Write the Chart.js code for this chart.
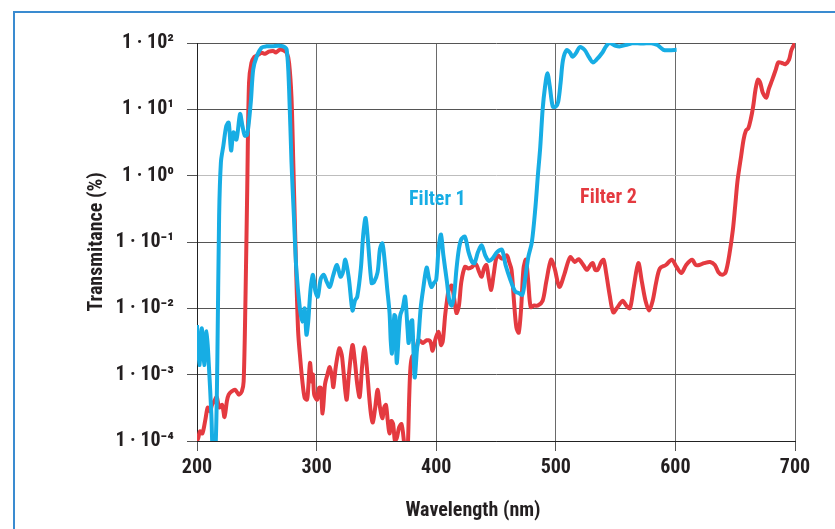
<!DOCTYPE html>
<html>
<head>
<meta charset="utf-8">
<script src="https://cdn.jsdelivr.net/npm/chart.js@4.4.1/dist/chart.umd.min.js"></script>
<style>
  html, body { margin: 0; padding: 0; background: #fff; }
  #wrap { position: relative; width: 835px; height: 529px; overflow: hidden; }
  #frame { position: absolute; left: 13px; top: 11px; width: 900px; height: 600px;
           border-left: 2px solid #3a8bd0; border-top: 2px solid #3a8bd0; }
  canvas { position: absolute; left: 0; top: 0; }
</style>
</head>
<body>
<div id="wrap">
  <div id="frame"></div>
  <canvas id="myChart" width="835" height="529"></canvas>
</div>
<script>
const FONT = '"Roboto Condensed", "Liberation Sans Narrow", Roboto, sans-serif';
const BLUE = '#17ade4';
const RED = '#e43a40';

const xTicks = [200, 300, 400, 500, 600, 700];
const yTicks = [1e-4, 1e-3, 1e-2, 1e-1, 1, 10, 100];
const yTickLabels = ['1 · 10⁻⁴', '1 · 10⁻³', '1 · 10⁻²', '1 · 10⁻¹', '1 · 10⁰', '1 · 10¹', '1 · 10²'];

// Filter 1: wavelength (nm) and transmittance (%)
const filter1Nm = [200, 202, 204, 206, 208, 210, 212, 213.5, 215.5, 217, 218.5, 220, 222, 224.5, 226.5, 228.5, 230.5, 233, 236, 238,
  240, 242, 245, 247, 250, 254, 258, 263, 268, 272, 275, 277, 279, 281, 283, 286, 288, 290, 291.5, 293,
  295, 297, 299, 301, 303.5, 306, 308.5, 311, 314, 317, 320, 322, 324, 327, 330, 332, 334, 337, 339, 341,
  343, 346, 348, 351, 353, 355, 357, 359, 361, 362, 363, 365, 366, 367, 369, 370, 372, 374, 376, 377,
  379, 380, 382, 384, 385, 387, 389, 392, 394, 396, 398, 400, 402, 404, 406, 409, 411, 413, 415, 417,
  419, 421, 424, 427, 430, 432, 435, 438, 441, 444, 447, 451, 455, 458, 462, 466, 469, 472, 474, 477,
  480, 483, 485, 487, 489, 491, 493, 495, 497.5, 500, 502, 504, 506, 509, 512, 514, 517, 520, 524, 528,
  531, 534, 539, 542, 545, 550, 554, 560, 565, 572, 579, 585, 590, 595, 601];
const filter1T = [5.6e-3, 1.4e-3, 5.0e-3, 1.4e-3, 4.5e-3, 1.3e-3, 2.5e-4, 5.0e-5, 7.9e-5, 1.6e-3, 0.25, 1.6, 2.8, 5.6, 6.3, 2.4, 4.5, 3.5, 8.5, 5.6,
  4.0, 4.2, 13, 40, 63, 85, 89, 89, 91, 89, 79, 20, 1.6, 0.25, 0.04, 0.01, 6.3e-3, 0.01, 4.0e-3, 6.3e-3,
  0.02, 0.032, 0.018, 0.015, 0.028, 0.032, 0.025, 0.021, 0.032, 0.045, 0.030, 0.035, 0.054, 0.028, 9.3e-3, 0.013, 0.015, 0.04, 0.13, 0.23,
  0.1, 0.024, 0.025, 0.035, 0.079, 0.095, 0.05, 0.02, 8.5e-3, 3.2e-3, 2.1e-3, 7.9e-3, 7.4e-3, 1.5e-3, 5.0e-3, 7.9e-3, 0.01, 0.015, 5.0e-3, 3.0e-3,
  6.3e-3, 6.6e-3, 9.1e-4, 2.5e-3, 3.3e-3, 0.01, 0.019, 0.041, 0.028, 0.021, 0.024, 0.027, 0.079, 0.13, 0.063, 0.025, 0.013, 0.011, 0.016, 0.04,
  0.079, 0.11, 0.12, 0.071, 0.05, 0.048, 0.071, 0.089, 0.063, 0.052, 0.056, 0.071, 0.076, 0.045, 0.027, 0.018, 0.017, 0.016, 0.025, 0.059,
  0.1, 0.34, 1.0, 2.7, 10, 22, 35, 22, 11, 11, 13, 25, 55, 78, 71, 62, 71, 87, 79, 60,
  51, 56, 72, 89, 100, 91, 89, 95, 100, 98, 100, 93, 79, 78, 79];

// Filter 2: wavelength (nm) and transmittance (%)
const filter2Nm = [200, 201, 202.5, 204.5, 207, 209, 211, 212.5, 214.5, 216.5, 218.5, 221, 223, 225, 226.5, 229, 232, 235, 237.5, 239,
  240.5, 242, 243.5, 245.5, 248, 251, 254, 257, 260, 263.5, 266, 269, 272, 275, 277, 279, 280.5, 282, 284.5, 286.5,
  288, 290, 292, 293, 294.5, 296, 297, 298, 300.5, 302, 303.5, 305, 307, 309, 311, 313, 314, 316, 319, 321,
  322, 325, 327, 330, 332, 334, 336, 338, 340, 342, 344, 345.5, 347, 349, 351, 353, 355, 356.5, 358, 359.5,
  361, 362.5, 364, 365.5, 367, 369, 371, 373, 374.5, 376, 377.5, 378.5, 380, 382.5, 385, 387, 389, 392, 395, 397,
  399.5, 402, 404, 405.5, 407.5, 409, 410.5, 413, 415, 417, 419, 421, 424, 427, 430, 433, 436, 438, 440, 442,
  444, 446, 448, 451, 455, 459, 461, 463, 465, 467, 469, 471, 473, 475, 477, 479, 482, 485, 489, 492,
  496, 499, 503, 507, 512, 516, 519, 523, 526, 529, 531, 533, 535, 538, 540, 542, 545, 548, 551, 554,
  556, 559, 562, 565, 569, 572, 575, 578, 581, 584, 587, 592, 597, 601, 605, 609, 614, 617, 620, 624,
  629, 633, 636, 639, 642, 645, 648, 650, 652, 655, 657, 659, 661, 663, 665, 667, 669, 671, 673, 676,
  678, 681, 684, 686, 689, 692, 695, 697, 700];
const filter2T = [1.0e-4, 1.1e-4, 1.4e-4, 1.3e-4, 2.1e-4, 3.2e-4, 2.8e-4, 3.5e-4, 4.0e-4, 4.6e-4, 3.2e-4, 3.5e-4, 2.3e-4, 4.0e-4, 5.0e-4, 5.6e-4, 5.9e-4, 5.0e-4, 5.6e-4, 7.9e-4,
  0.013, 0.63, 25, 50, 62, 66, 71, 69, 74, 76, 72, 79, 78, 71, 50, 15, 1.6, 0.15, 4.7e-3, 1.6e-3,
  8.3e-4, 4.5e-4, 4.2e-4, 6.3e-4, 1.5e-3, 7.9e-4, 1.0e-3, 5.0e-4, 4.2e-4, 6.3e-4, 6.3e-4, 2.6e-4, 7.1e-4, 1.0e-3, 1.3e-3, 8.9e-4, 6.5e-4, 1.3e-3, 2.5e-3, 2.0e-3,
  1.4e-3, 4.2e-4, 1.0e-3, 2.8e-3, 1.6e-3, 7.1e-4, 4.6e-4, 1.3e-3, 2.6e-3, 1.3e-3, 4.6e-4, 2.5e-4, 1.9e-4, 3.2e-4, 5.9e-4, 3.2e-4, 2.2e-4, 3.2e-4, 3.5e-4, 2.0e-4,
  1.3e-4, 2.0e-4, 1.8e-4, 1.0e-4, 1.1e-4, 1.6e-4, 1.8e-4, 1.0e-4, 5.0e-5, 6.3e-5, 5.0e-4, 1.3e-3, 1.9e-3, 2.0e-3, 3.3e-3, 3.2e-3, 3.0e-3, 3.3e-3, 3.2e-3, 2.3e-3,
  3.5e-3, 4.4e-3, 2.8e-3, 3.2e-3, 7.9e-3, 0.013, 0.019, 0.022, 0.014, 8.5e-3, 0.011, 0.025, 0.042, 0.04, 0.042, 0.047, 0.035, 0.03, 0.04, 0.045,
  0.028, 0.019, 0.032, 0.063, 0.056, 0.063, 0.05, 0.038, 0.013, 5.2e-3, 4.3e-3, 0.01, 0.04, 0.054, 0.025, 0.0105, 0.011, 0.011, 0.013, 0.025,
  0.054, 0.04, 0.021, 0.032, 0.059, 0.05, 0.055, 0.045, 0.038, 0.045, 0.048, 0.038, 0.038, 0.05, 0.054, 0.035, 0.016, 8.7e-3, 0.01, 0.012,
  0.013, 0.011, 0.01, 0.02, 0.048, 0.025, 0.013, 9.3e-3, 0.013, 0.025, 0.04, 0.045, 0.054, 0.042, 0.034, 0.045, 0.054, 0.045, 0.045, 0.048,
  0.05, 0.045, 0.035, 0.032, 0.035, 0.063, 0.15, 0.35, 0.85, 2.0, 3.5, 4.8, 5.2, 7.1, 11, 20, 28, 25, 18, 15,
  20, 28, 40, 51, 50, 48, 56, 78, 100];

function toPoints(xs, ys) {
  return xs.map((x, i) => ({ x: x, y: ys[i] }));
}

const textPlugin = {
  id: 'extraText',
  afterDraw(chart) {
    const { ctx, scales: { x, y } } = chart;
    ctx.save();
    ctx.textAlign = 'center';
    ctx.textBaseline = 'middle';
    ctx.font = 'bold 20px ' + FONT;
    ctx.fillStyle = BLUE;
    ctx.fillText('Filter 1', x.getPixelForValue(401), y.getPixelForValue(0.43));
    ctx.fillStyle = RED;
    ctx.fillText('Filter 2', x.getPixelForValue(544), y.getPixelForValue(0.46));
    // x axis title sits a bit left of the plot centre in the original
    ctx.font = 'bold 20px ' + FONT;
    ctx.fillStyle = '#231f20';
    ctx.fillText('Wavelength (nm)', (chart.chartArea.left + chart.chartArea.right) / 2 - 23, chart.height - 18);
    ctx.restore();
  }
};

function initChart() {
  const ctx = document.getElementById('myChart').getContext('2d');
  return new Chart(ctx, {
    type: 'line',
    data: {
      datasets: [{
        label: 'Filter 1',
        data: toPoints(filter1Nm, filter1T),
        borderColor: BLUE,
        borderWidth: 4,
        pointRadius: 0,
        tension: 0.3
      }, {
        label: 'Filter 2',
        data: toPoints(filter2Nm, filter2T),
        borderColor: RED,
        borderWidth: 4,
        pointRadius: 0,
        tension: 0.3
      }]
    },
    options: {
      responsive: false,
      animation: false,
      devicePixelRatio: 1,
      layout: { padding: { top: 43, right: 40, left: 0, bottom: 0 } },
      plugins: {
        legend: { display: false },
        tooltip: { enabled: false }
      },
      scales: {
        x: {
          type: 'linear',
          min: 200,
          max: 700,
          afterFit: (s) => { s.height = 88; },
          afterBuildTicks: (s) => { s.ticks = xTicks.map(v => ({ value: v })); },
          grid: { color: '#6a6a6a', tickColor: '#555', tickLength: 10, lineWidth: 1 },
          border: { color: '#222', width: 1 },
          ticks: { color: '#231f20', font: { family: FONT, size: 20, weight: 'bold' }, padding: 5, maxRotation: 0 }
        },
        y: {
          type: 'logarithmic',
          min: 1e-4,
          max: 100,
          afterFit: (s) => { s.width = 197; },
          afterBuildTicks: (s) => { s.ticks = yTicks.map(v => ({ value: v })); },
          grid: {
            color: (c) => (c.tick && c.tick.value === 1 ? '#bdbdbd' : '#555'),
            tickColor: '#555',
            tickLength: 10,
            lineWidth: 1
          },
          border: { color: '#222', width: 1 },
          ticks: {
            color: '#231f20',
            font: { family: FONT, size: 20, weight: 'bold' },
            padding: 13,
            callback: (v) => {
              const i = yTicks.findIndex(t => Math.abs(Math.log10(t) - Math.log10(v)) < 1e-6);
              return i >= 0 ? yTickLabels[i] : '';
            }
          },
          title: {
            display: true,
            text: 'Transmitance (%)',
            color: '#231f20',
            font: { family: FONT, size: 20, weight: 'bold' },
            padding: { top: 85, bottom: 0 }
          }
        }
      }
    },
    plugins: [textPlugin]
  });
}

document.addEventListener('DOMContentLoaded', function() {
  initChart();
});
</script>
</body>
</html>
